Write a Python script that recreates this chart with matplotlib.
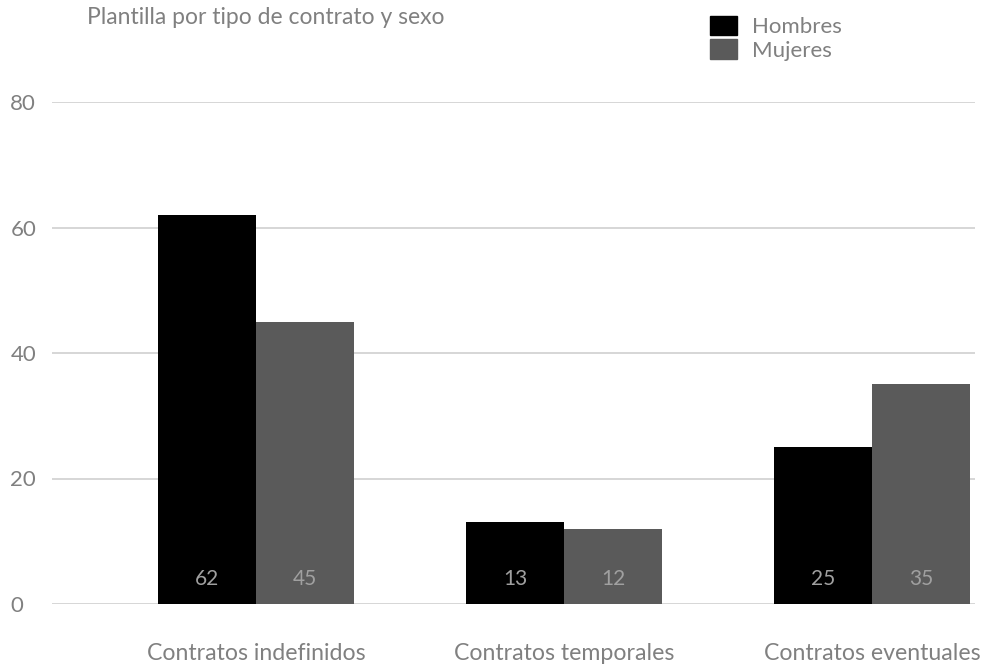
import matplotlib.pyplot as plt
import numpy as np
from matplotlib.patches import Patch

plt.rcParams["font.family"] = ["Lato", "DejaVu Sans"]

categories = ["Contratos indefinidos", "Contratos temporales", "Contratos eventuales"]
hombres = [62, 13, 25]
mujeres = [45, 12, 35]
series_names = ["Hombres", "Mujeres"]
colors = ["#000000", "#5a5a5a"]
yticks = [0, 20, 40, 60, 80]

TEXT = "#808080"

fig = plt.figure(figsize=(9.91, 6.67), dpi=100)
ax = fig.add_axes([52 / 991, 1 - 604 / 667, (975 - 52) / 991, (604 - 102) / 667])

x = np.arange(len(categories))
w = 0.318
b1 = ax.bar(x - w / 2, hombres, w, color=colors[0], zorder=3)
b2 = ax.bar(x + w / 2, mujeres, w, color=colors[1], zorder=3)

for bars in (b1, b2):
    for rect in bars:
        ax.text(rect.get_x() + rect.get_width() / 2, 4, f"{rect.get_height():g}",
                ha="center", va="center", color="#a0a0a0", fontsize=15, zorder=4)

ax.set_xlim(-0.662, 2.334)
ax.set_ylim(0, 80)
ax.set_yticks(yticks)
ax.set_yticklabels([str(t) for t in yticks], ha="left")
ax.tick_params(axis="y", length=0, pad=30, labelsize=16, labelcolor=TEXT)
ax.set_xticks(x)
ax.set_xticklabels(categories)
ax.tick_params(axis="x", length=0, pad=28, labelsize=16.7, labelcolor=TEXT)

ax.grid(axis="y", color="#cfcfcf", linewidth=1.2, zorder=0)
for s in ax.spines.values():
    s.set_visible(False)

fig.text(87 / 991, 1 - 18 / 667, "Plantilla por tipo de contrato y sexo",
         ha="left", va="center", fontsize=16.5, color=TEXT)

handles = [Patch(color=c) for c in colors]
fig.legend(handles, series_names, loc="upper left",
           bbox_to_anchor=(701 / 991, 1 - 7 / 667), frameon=False,
           fontsize=16, labelcolor=TEXT, handlelength=1.23, handleheight=0.95,
           handletextpad=0.65, labelspacing=0.1, borderaxespad=0)

fig.savefig("out.png", dpi=100)
